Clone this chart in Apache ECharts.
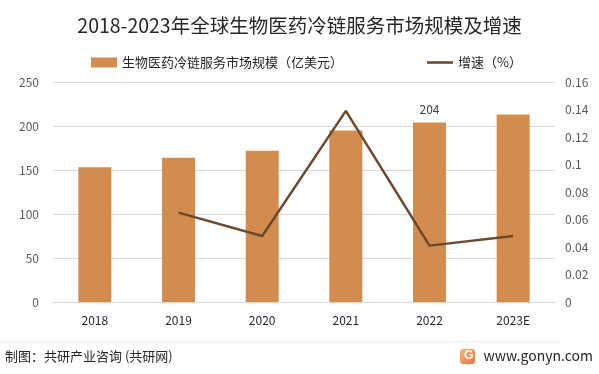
<!DOCTYPE html>
<html><head><meta charset="utf-8">
<script src="https://cdn.jsdelivr.net/npm/echarts@6/dist/echarts.min.js"></script>
<style>html,body{margin:0;padding:0;background:#fff}#c{width:599px;height:374px}</style>
</head><body><div id="c"></div>
<script>
const categories = ['2018','2019','2020','2021','2022','2023E'];
const marketSize = [153, 164, 172, 195, 204, 213];
const growth = [null, 0.065, 0.048, 0.139, 0.041, 0.048];
const leftTicks = [0, 50, 100, 150, 200, 250];
const rightTicks = [0, 0.02, 0.04, 0.06, 0.08, 0.1, 0.12, 0.14, 0.16];
const labeledYear = '2022';
const font = '"Microsoft YaHei","Noto Sans CJK SC",sans-serif';

const chart = echarts.init(document.getElementById('c'));
chart.setOption({
  animation: false,
  textStyle: { fontFamily: font },
  title: {
    text: '2018-2023年全球生物医药冷链服务市场规模及增速',
    left: 'center', top: 11,
    textStyle: { fontSize: 19.5, fontWeight: 'normal', color: '#262626', fontFamily: font }
  },
  legend: {
    top: 51, left: 86, itemGap: 84, itemWidth: 26, itemHeight: 10,
    textStyle: { fontSize: 13, color: '#262626', fontFamily: font },
    data: [
      { name: '生物医药冷链服务市场规模（亿美元）', icon: 'rect' },
      { name: '增速（%）', icon: 'path://M0,0 L30,0 L30,3 L0,3 Z' }
    ]
  },
  grid: { left: 53, right: 44, top: 82, bottom: 72, containLabel: false },
  xAxis: {
    type: 'category', data: categories,
    axisLine: { lineStyle: { color: '#d9d9d9' } },
    axisTick: { show: false },
    axisLabel: { color: '#262626', fontSize: 12, margin: 12 }
  },
  yAxis: [
    {
      type: 'value', min: leftTicks[0], max: leftTicks[leftTicks.length - 1], interval: leftTicks[1] - leftTicks[0],
      axisLine: { show: false }, axisTick: { show: false },
      axisLabel: { color: '#595959', fontSize: 12, margin: 14 },
      splitLine: { lineStyle: { color: '#d9d9d9' } }
    },
    {
      type: 'value', min: rightTicks[0], max: rightTicks[rightTicks.length - 1], interval: rightTicks[1] - rightTicks[0],
      axisLine: { show: false }, axisTick: { show: false },
      axisLabel: { color: '#595959', fontSize: 12, margin: 10, formatter: v => String(+v.toFixed(2)) },
      splitLine: { show: false }
    }
  ],
  series: [
    {
      name: '生物医药冷链服务市场规模（亿美元）', type: 'bar', barWidth: 33,
      itemStyle: { color: '#D38C4D' },
      data: marketSize.map((v, i) => ({
        value: v,
        label: { show: categories[i] === labeledYear, position: 'top', distance: 7, color: '#404040', fontSize: 12 }
      }))
    },
    {
      name: '增速（%）', type: 'line', yAxisIndex: 1,
      data: growth, symbol: 'none', connectNulls: false,
      lineStyle: { color: '#6B4A2E', width: 2.5 },
      itemStyle: { color: '#6B4A2E' }
    }
  ],
  graphic: [
    { type: 'line', shape: { x1: 0, y1: 342, x2: 560, y2: 342 }, style: { stroke: '#ececec', lineWidth: 1 } },
    { type: 'text', left: 5, top: 350, style: { text: '制图：共研产业咨询 (共研网)', fill: '#262626', font: '13px ' + font } },
    { type: 'rect', shape: { x: 460, y: 349, width: 15, height: 15, r: 3 },
      style: { fill: new echarts.graphic.LinearGradient(0, 0, 1, 1, [{ offset: 0, color: '#F7B77A' }, { offset: 1, color: '#E8743B' }]) } },
    { type: 'text', left: 464, top: 350, style: { text: 'G', fill: '#fff', font: 'bold 12px sans-serif' } },
    { type: 'text', right: 6, top: 349, style: { text: 'www.gonyn.com', fill: '#262626', font: '14px ' + font } }
  ]
});
</script></body></html>
